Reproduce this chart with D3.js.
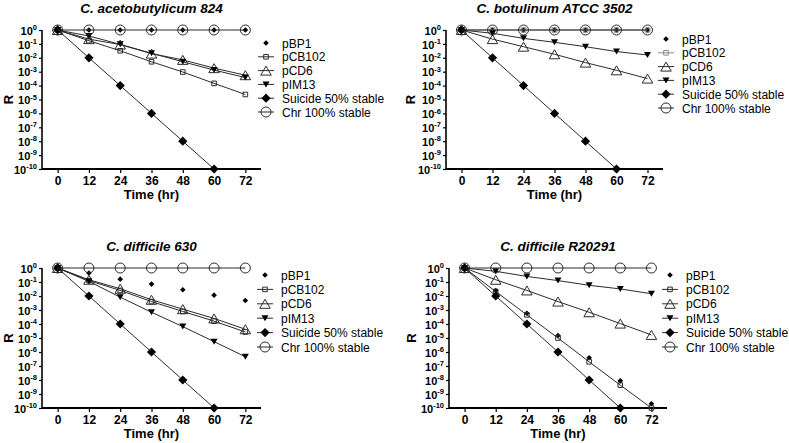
<!DOCTYPE html>
<html>
<head>
<meta charset="utf-8">
<script src="https://cdn.jsdelivr.net/npm/d3@7"></script>
<style>
  html, body { margin: 0; padding: 0; background: #fff; }
  svg { display: block; font-family: "Liberation Sans", Arial, sans-serif; }
</style>
</head>
<body>
<svg id="chart" width="789" height="443"></svg>
<script>
// ---------------- DATA ----------------
const times = [0, 12, 24, 36, 48, 60, 72];
const xTicks = [0, 12, 24, 36, 48, 60, 72];
const yTickExponents = [0, -1, -2, -3, -4, -5, -6, -7, -8, -9, -10];
const seriesNames = ["pBP1", "pCB102", "pCD6", "pIM13", "Suicide 50% stable", "Chr 100% stable"];
const panelTitles = ["C. acetobutylicum 824", "C. botulinum ATCC 3502", "C. difficile 630", "C. difficile R20291"];

// Ratio R (null = not plotted)
const acetoPBP1    = [1, 1, 1, 1, 1, 1, 1];
const acetoPCB102  = [1, 1.7e-1, 3.2e-2, 5.2e-3, 9.5e-4, 1.45e-4, 2.3e-5];
const acetoPCD6    = [1, 2.2e-1, 8.9e-2, 2.0e-2, 7.1e-3, 1.8e-3, 5.6e-4];
const acetoPIM13   = [1, 3.7e-1, 9.3e-2, 2.1e-2, 5.2e-3, 1.3e-3, 3.8e-4];
const acetoSuicide = [1, 1e-2, 1e-4, 1e-6, 1e-8, 1e-10, null];
const acetoChr     = [1, 1, 1, 1, 1, 1, 1];

const botuPBP1    = [1, 1, 1, 1, 1, 1, 1];
const botuPCB102  = [1, 1, 1, 1, 1, 1, 1];
const botuPCD6    = [1, 2.2e-1, 6.3e-2, 1.8e-2, 4.5e-3, 1.26e-3, 3.2e-4];
const botuPIM13   = [1, 5.8e-1, 2.5e-1, 1.3e-1, 6.3e-2, 2.8e-2, 1.6e-2];
const botuSuicide = [1, 1e-2, 1e-4, 1e-6, 1e-8, 1e-10, null];
const botuChr     = [1, 1, 1, 1, 1, 1, 1];

const diff630PBP1    = [1, 4.4e-1, 1.6e-1, 7.1e-2, 2.8e-2, 1.15e-2, 4.8e-3];
const diff630PCB102  = [1, 1.26e-1, 2.5e-2, 4.0e-3, 7.9e-4, 1.6e-4, 2.7e-5];
const diff630PCD6    = [1, 1.45e-1, 3.3e-2, 5.4e-3, 1.15e-3, 2.5e-4, 4.2e-5];
const diff630PIM13   = [1, 1.1e-1, 8.3e-3, 6.9e-4, 6.5e-5, 5.5e-6, 4.6e-7];
const diff630Suicide = [1, 1e-2, 1e-4, 1e-6, 1e-8, 1e-10, null];
const diff630Chr     = [1, 1, 1, 1, 1, 1, 1];

const r20291PBP1    = [1, 2.5e-2, 5.9e-4, 1.5e-5, 3.9e-7, 8.7e-9, 2.0e-10];
const r20291PCB102  = [1, 2.1e-2, 4.5e-4, 1.0e-5, 2.0e-7, 4.3e-9, 1e-10];
const r20291PCD6    = [1, 1.45e-1, 2.5e-2, 4.0e-3, 6.9e-4, 1.07e-4, 1.66e-5];
const r20291PIM13   = [1, 5.8e-1, 2.5e-1, 1.26e-1, 5.8e-2, 3.2e-2, 1.45e-2];
const r20291Suicide = [1, 1e-2, 1e-4, 1e-6, 1e-8, 1e-10, null];
const r20291Chr     = [1, 1, 1, 1, 1, 1, 1];

// ---------------- LAYOUT / STYLE ----------------
const panelValues = [
  [acetoPBP1, acetoPCB102, acetoPCD6, acetoPIM13, acetoSuicide, acetoChr],
  [botuPBP1, botuPCB102, botuPCD6, botuPIM13, botuSuicide, botuChr],
  [diff630PBP1, diff630PCB102, diff630PCD6, diff630PIM13, diff630Suicide, diff630Chr],
  [r20291PBP1, r20291PCB102, r20291PCD6, r20291PIM13, r20291Suicide, r20291Chr]
];
const layouts = [
  { l: 42,  r: 261, t: 30,  b: 169, rx: 8,   legX: 266, legY: 43,  legStep: 13.8 },
  { l: 446, r: 663, t: 30,  b: 169, rx: 410, legX: 666, legY: 39,  legStep: 13.8 },
  { l: 42,  r: 261, t: 268, b: 408, rx: 8,   legX: 265, legY: 275, legStep: 14.4 },
  { l: 449, r: 667, t: 268, b: 408, rx: 411, legX: 670, legY: 275, legStep: 14.4 }
];
const LINE = "#2b2b2b";

// marker shapes
const shapes = {
  smallDiamond: s => `M0,${-s}L${s},0L0,${s}L${-s},0Z`,
  square: s => `M${-s},${-s}H${s}V${s}H${-s}Z`,
  triUp: (w, h) => `M0,${-h/2}L${w/2},${h/2}L${-w/2},${h/2}Z`,
  triDown: (w, h) => `M${-w/2},${-h/2}L${w/2},${-h/2}L0,${h/2}Z`,
  circle: r => `M${-r},0A${r},${r} 0 1,0 ${r},0A${r},${r} 0 1,0 ${-r},0Z`
};
const seriesStyle = [
  { path: shapes.smallDiamond(2.8), fill: "#000", stroke: "none", line: false },
  { path: shapes.square(2.3), fill: "none", stroke: LINE, line: true },
  { path: shapes.triUp(10.5, 9), fill: "none", stroke: LINE, line: true },
  { path: shapes.triDown(7, 6), fill: "#000", stroke: "none", line: true },
  { path: shapes.smallDiamond(4.6), fill: "#000", stroke: "none", line: true },
  { path: shapes.circle(5), fill: "none", stroke: LINE, line: true }
];

const svg = d3.select("#chart");

panelValues.forEach((vals, pi) => {
  const L = layouts[pi];
  const g = svg.append("g");
  const x = d3.scaleLinear().domain([-6, 78]).range([L.l, L.r]);
  const y = d3.scaleLog().domain([1e-10, 1]).range([L.b, L.t]);

  const clipId = "clip" + pi;
  svg.append("clipPath").attr("id", clipId).append("rect")
    .attr("x", L.l).attr("y", L.t - 8).attr("width", L.r - L.l).attr("height", L.b - L.t + 8);

  // Title
  g.append("text").attr("x", (L.l + L.r) / 2).attr("y", L.t - 17)
    .attr("text-anchor", "middle").attr("font-size", 13.5).attr("font-weight", "bold")
    .attr("font-style", "italic").text(panelTitles[pi]);

  // Y axis
  const yAxis = d3.axisLeft(y).tickValues(yTickExponents.map(e => Math.pow(10, e)))
    .tickSize(3).tickPadding(2).tickFormat("");
  const ya = g.append("g").attr("transform", `translate(${L.l},0)`).call(yAxis);
  ya.select(".domain").attr("stroke", "#000").attr("stroke-width", 1.6).attr("d", `M-0,${L.t}V${L.b}`);
  ya.selectAll(".tick line").attr("stroke", "#000").attr("stroke-width", 1.2);
  ya.selectAll(".tick").each(function(d, i) {
    const t = d3.select(this).append("text").attr("x", -5).attr("y", 0)
      .attr("text-anchor", "end").attr("fill", "#000").attr("font-weight", "bold")
      .attr("font-size", 11).attr("dy", "0.38em");
    t.append("tspan").text("10");
    t.append("tspan").attr("font-size", 7.5).attr("dy", "-0.6em").text(String(yTickExponents[i]).replace("-", "-"));
  });

  // X axis
  const xAxis = d3.axisBottom(x).tickValues(xTicks).tickSize(4).tickPadding(3).tickFormat(d3.format("d"));
  const xa = g.append("g").attr("transform", `translate(0,${L.b})`).call(xAxis);
  xa.select(".domain").attr("stroke", "#000").attr("stroke-width", 2).attr("d", `M${L.l},0H${L.r}`);
  xa.selectAll(".tick line").attr("stroke", "#000").attr("stroke-width", 1.2);
  xa.selectAll(".tick text").attr("font-size", 12).attr("font-weight", "bold")
    .attr("font-family", "Liberation Sans, Arial, sans-serif").attr("fill", "#000");

  // axis labels
  g.append("text").attr("x", (L.l + L.r) / 2).attr("y", L.b + 30)
    .attr("text-anchor", "middle").attr("font-size", 13).attr("font-weight", "bold").text("Time (hr)");
  g.append("text").attr("transform", `translate(${L.rx + 5},${(L.t + L.b) / 2}) rotate(-90)`)
    .attr("text-anchor", "middle").attr("font-size", 13).attr("font-weight", "bold").text("R");

  // Series
  const lineGen = d3.line().defined(d => d.v !== null).x(d => x(d.t)).y(d => y(d.v));
  vals.forEach((arr, si) => {
    const st = seriesStyle[si];
    const col = (pi === 1 && si === 1) ? "#8a8a8a" : LINE;
    const pts = times.map((t, k) => ({ t, v: arr[k] }));
    if (st.line) {
      g.append("path").datum(pts).attr("clip-path", `url(#${clipId})`)
        .attr("fill", "none").attr("stroke", col).attr("stroke-width", 1).attr("d", lineGen);
    }
    g.selectAll(null).data(pts.filter(d => d.v !== null)).enter().append("path")
      .attr("transform", d => `translate(${x(d.t)},${y(d.v)})`)
      .attr("d", st.path)
      .attr("fill", st.fill === "none" ? "none" : st.fill)
      .attr("stroke", st.stroke === "none" ? "none" : col)
      .attr("stroke-width", 1);
  });

  // Legend
  seriesNames.forEach((name, si) => {
    const st = seriesStyle[si];
    const col = (pi === 1 && si === 1) ? "#8a8a8a" : LINE;
    const ly = L.legY + si * L.legStep;
    const lg = g.append("g").attr("transform", `translate(${L.legX},${ly})`);
    if (st.line) lg.append("line").attr("x1", -8).attr("x2", 8).attr("y1", 0).attr("y2", 0)
      .attr("stroke", col).attr("stroke-width", 1);
    lg.append("path").attr("d", st.path)
      .attr("fill", st.fill === "none" ? "none" : (col === LINE ? st.fill : col))
      .attr("stroke", st.stroke === "none" ? "none" : col).attr("stroke-width", 1);
    g.append("text").attr("x", L.legX + 16).attr("y", ly + 4.5)
      .attr("font-size", 12).attr("fill", "#000").text(name);
  });
});
</script>
</body>
</html>
